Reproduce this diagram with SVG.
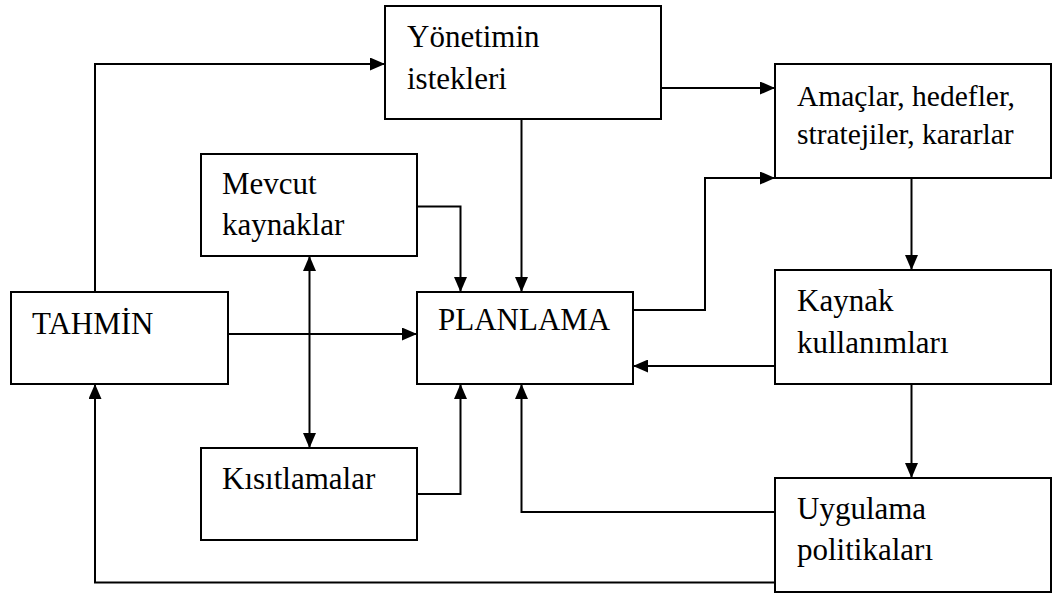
<svg xmlns="http://www.w3.org/2000/svg" width="1053" height="593" viewBox="0 0 1053 593">
  <defs>
    <marker id="arrow" viewBox="0 0 15 13" refX="15" refY="6.5" markerWidth="15" markerHeight="13" markerUnits="userSpaceOnUse" orient="auto-start-reverse">
      <path d="M0,0 L15,6.5 L0,13 Z" fill="#000"/>
    </marker>
    <style>
      .box { fill: #fff; stroke: #000; stroke-width: 2; }
      .label { font-family: 'Liberation Serif', 'Times New Roman', serif; font-size: 31px; fill: #000; }
      .small { font-size: 29.5px; }
      .link { fill: none; stroke: #000; stroke-width: 2; }
    </style>
  </defs>
  <rect width="1053" height="593" fill="#fff"/>

  <g id="connectors">
    <!-- TAHMİN up and over to Yönetimin istekleri -->
    <path class="link" d="M95,292 V64 H385" marker-end="url(#arrow)"/>
    <!-- Yönetimin istekleri to Amaçlar -->
    <path class="link" d="M661,88 H775" marker-end="url(#arrow)"/>
    <!-- Yönetimin istekleri down to PLANLAMA -->
    <path class="link" d="M521.5,119 V292" marker-end="url(#arrow)"/>
    <!-- Mevcut kaynaklar to PLANLAMA -->
    <path class="link" d="M417,206.5 H460.5 V292" marker-end="url(#arrow)"/>
    <!-- Mevcut kaynaklar <-> Kısıtlamalar -->
    <path class="link" d="M309.5,256 V448" marker-start="url(#arrow)" marker-end="url(#arrow)"/>
    <!-- TAHMİN to PLANLAMA -->
    <path class="link" d="M228,334 H417" marker-end="url(#arrow)"/>
    <!-- PLANLAMA up to Amaçlar -->
    <path class="link" d="M633,310 H705 V178 H775" marker-end="url(#arrow)"/>
    <!-- Amaçlar down to Kaynak kullanımları -->
    <path class="link" d="M911.5,178 V270" marker-end="url(#arrow)"/>
    <!-- Kaynak kullanımları back to PLANLAMA -->
    <path class="link" d="M775,366 H633" marker-end="url(#arrow)"/>
    <!-- Kaynak kullanımları down to Uygulama politikaları -->
    <path class="link" d="M911.5,384 V478" marker-end="url(#arrow)"/>
    <!-- Kısıtlamalar to PLANLAMA -->
    <path class="link" d="M417,494 H460.5 V384" marker-end="url(#arrow)"/>
    <!-- Uygulama politikaları to PLANLAMA -->
    <path class="link" d="M775,512 H521.5 V384" marker-end="url(#arrow)"/>
    <!-- Uygulama politikaları back to TAHMİN -->
    <path class="link" d="M775,582.5 H95 V384" marker-end="url(#arrow)"/>
  </g>

  <g id="yonetimin">
    <rect class="box" x="385" y="6" width="276" height="113"/>
    <text class="label" x="407" y="46.5">Yönetimin</text>
    <text class="label" x="407" y="88.5">istekleri</text>
  </g>

  <g id="amaclar">
    <rect class="box" x="775" y="64" width="276" height="114"/>
    <text class="label small" x="797" y="106">Amaçlar, hedefler,</text>
    <text class="label small" x="797" y="144">stratejiler, kararlar</text>
  </g>

  <g id="mevcut">
    <rect class="box" x="201" y="154" width="216" height="102"/>
    <text class="label" x="222" y="194">Mevcut</text>
    <text class="label" x="222" y="234.5">kaynaklar</text>
  </g>

  <g id="tahmin">
    <rect class="box" x="11" y="292" width="217" height="92"/>
    <text class="label" x="32" y="333.5">TAHMİN</text>
  </g>

  <g id="planlama">
    <rect class="box" x="417" y="292" width="216" height="92"/>
    <text class="label" x="438" y="330" font-size="29">PLANLAMA</text>
  </g>

  <g id="kaynak">
    <rect class="box" x="775" y="270" width="276" height="114"/>
    <text class="label" x="797" y="311">Kaynak</text>
    <text class="label" x="797" y="353">kullanımları</text>
  </g>

  <g id="kisitlamalar">
    <rect class="box" x="201" y="448" width="216" height="92"/>
    <text class="label" x="222" y="488.5">Kısıtlamalar</text>
  </g>

  <g id="uygulama">
    <rect class="box" x="775" y="478" width="276" height="114"/>
    <text class="label" x="797" y="518.5">Uygulama</text>
    <text class="label" x="797" y="560">politikaları</text>
  </g>
</svg>
